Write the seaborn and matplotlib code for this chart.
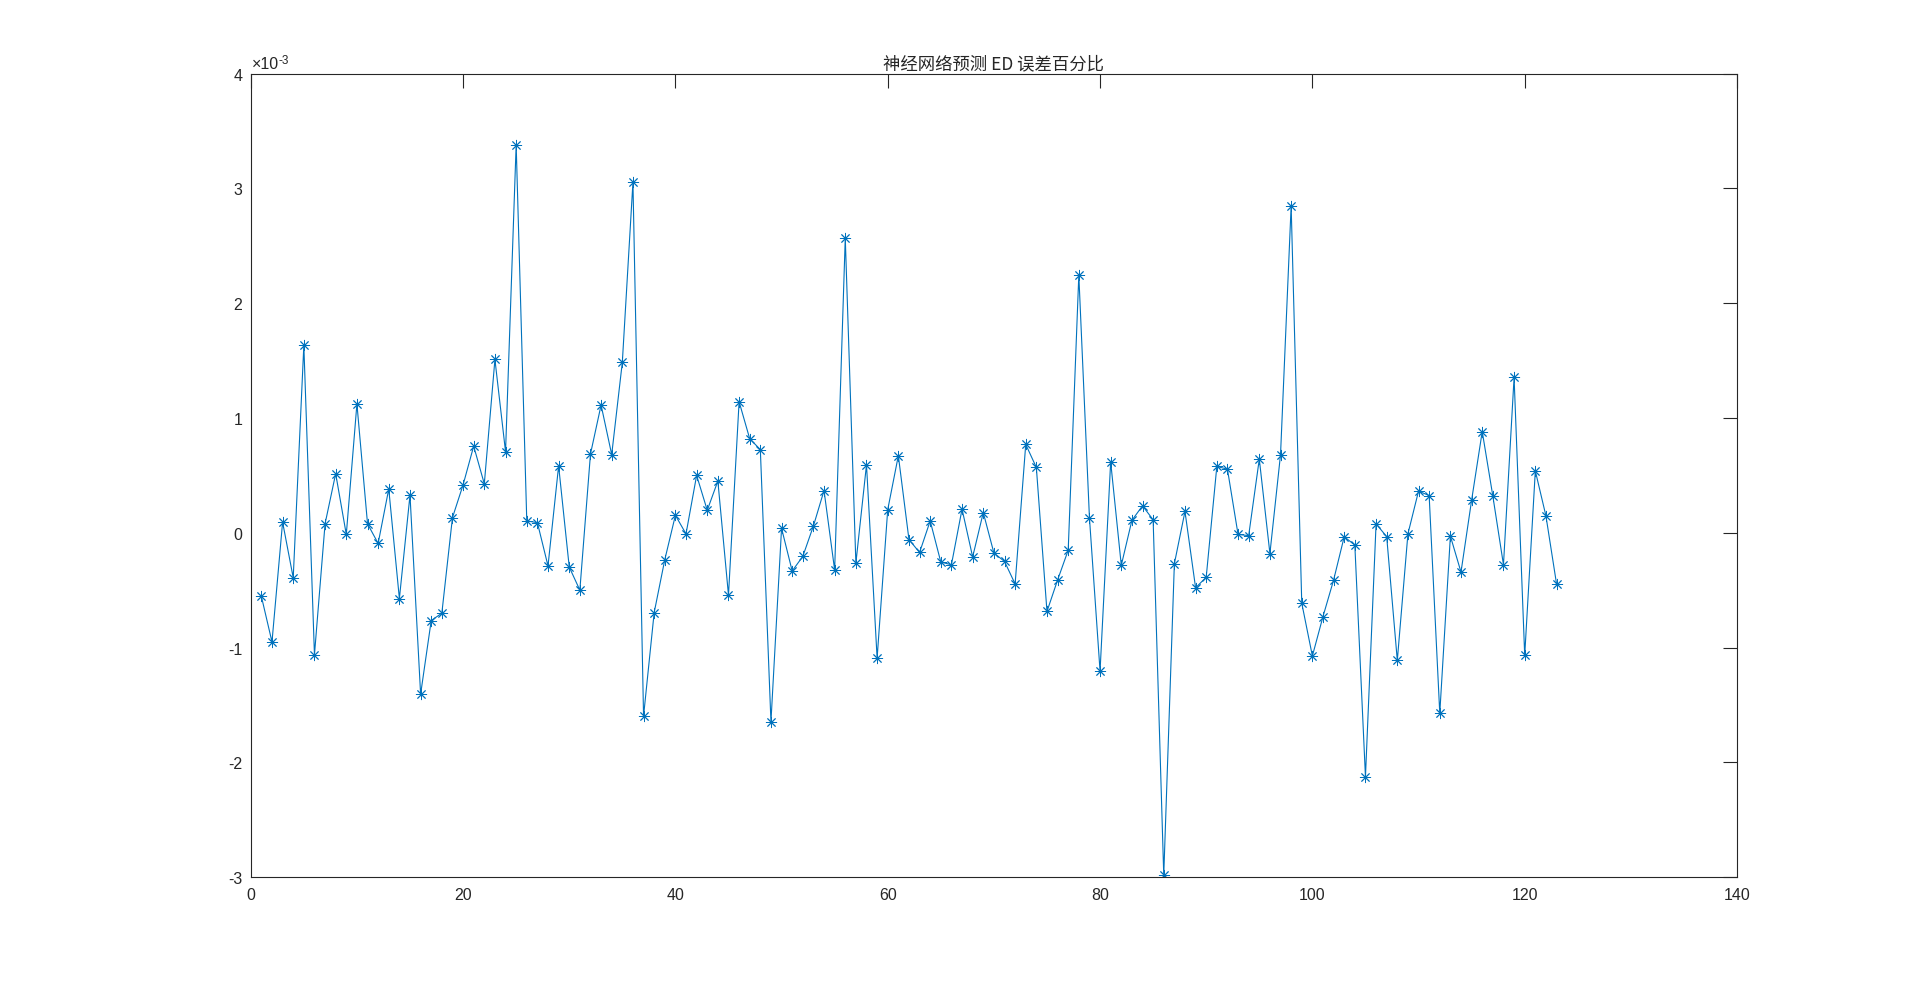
import numpy as np
import pandas as pd
import matplotlib
matplotlib.use("Agg")
import matplotlib.pyplot as plt
import seaborn as sns
from matplotlib.ticker import FuncFormatter, FixedLocator

# ---------------- data ----------------
sample_index = list(range(1, 124))
error_e3 = [
    -0.554, -0.951, 0.093, -0.392, 1.632, -1.064, 0.078, 0.515, -0.015, 1.123,
    0.078, -0.093, 0.382, -0.574, 0.328, -1.407, -0.765, -0.701, 0.132, 0.417,
    0.755, 0.426, 1.510, 0.706, 3.382, 0.103, 0.088, -0.289, 0.583, -0.299,
    -0.500, 0.686, 1.113, 0.681, 1.485, 3.054, -1.598, -0.696, -0.235, 0.152,
    -0.010, 0.500, 0.196, 0.451, -0.544, 1.142, 0.819, 0.725, -1.647, 0.039,
    -0.333, -0.206, 0.059, 0.368, -0.324, 2.569, -0.265, 0.593, -1.093, 0.201,
    0.672, -0.059, -0.172, 0.103, -0.255, -0.279, 0.206, -0.211, 0.176, -0.176,
    -0.250, -0.446, 0.770, 0.569, -0.686, -0.412, -0.152, 2.245, 0.132, -1.206,
    0.618, -0.284, 0.108, 0.235, 0.113, -2.985, -0.270, 0.186, -0.480, -0.387,
    0.578, 0.554, -0.015, -0.025, 0.642, -0.181, 0.681, 2.848, -0.613, -1.074,
    -0.730, -0.412, -0.034, -0.108, -2.127, 0.078, -0.034, -1.113, -0.010, 0.363,
    0.324, -1.574, -0.029, -0.343, 0.284, 0.882, 0.319, -0.279, 1.353, -1.069,
    0.539, 0.147, -0.446,
]
title_text = "神经网络预测 ED 误差百分比"
x_ticks = [0, 20, 40, 60, 80, 100, 120, 140]
y_ticks_e3 = [-3, -2, -1, 0, 1, 2, 3, 4]
exponent_base = "×10"
exponent_power = "-3"

# ---------------- style ----------------
sns.set_style("white")
plt.rcParams["font.family"] = ["Liberation Sans", "Noto Sans CJK SC", "DejaVu Sans"]
plt.rcParams["axes.unicode_minus"] = False

dark = "#262626"
line_color = "#0072BD"

fig = plt.figure(figsize=(19.2, 9.87), dpi=100)
fig.patch.set_facecolor("white")
ax = fig.add_axes([0.1306, 0.1104, 0.7741, 0.8139])

df = pd.DataFrame({"idx": sample_index, "err": np.array(error_e3) * 1e-3})
sns.lineplot(
    data=df, x="idx", y="err", ax=ax, color=line_color, linewidth=0.8,
    marker=(8, 2, 0), markersize=8, markeredgecolor=line_color,
    markeredgewidth=0.65, errorbar=None,
)

ax.set_xlim(0, 140)
ax.set_ylim(-3e-3, 4e-3)
ax.xaxis.set_major_locator(FixedLocator(x_ticks))
ax.yaxis.set_major_locator(FixedLocator([v * 1e-3 for v in y_ticks_e3]))
ax.yaxis.set_major_formatter(FuncFormatter(lambda v, p: f"{round(v * 1e3):d}"))

# exponent label (MATLAB style) above the top-left corner
base = ax.annotate(exponent_base, xy=(0, 1), xycoords="axes fraction",
                   xytext=(0.5, 4), textcoords="offset points",
                   ha="left", va="baseline", fontsize=11.5, color=dark)
ax.annotate(exponent_power, xy=(1, 1), xycoords=base,
            xytext=(0.3, -3), textcoords="offset points",
            ha="left", va="center", fontsize=8.5, color=dark)

ax.set_xlabel("")
ax.set_ylabel("")
for sp in ax.spines.values():
    sp.set_visible(True)
    sp.set_color(dark)
    sp.set_linewidth(0.8)

ax.tick_params(axis="both", which="major", direction="in", length=10, width=0.8,
               top=True, right=True, colors=dark, labelsize=11.5)
ax.tick_params(axis="x", pad=7)
ax.tick_params(axis="y", pad=6)
ax.grid(False)

ax.set_title(title_text, fontsize=12.5, family=["Noto Sans CJK SC", "DejaVu Sans"],
             color=dark, pad=4)

fig.savefig("out.png", dpi=100, facecolor="white")
